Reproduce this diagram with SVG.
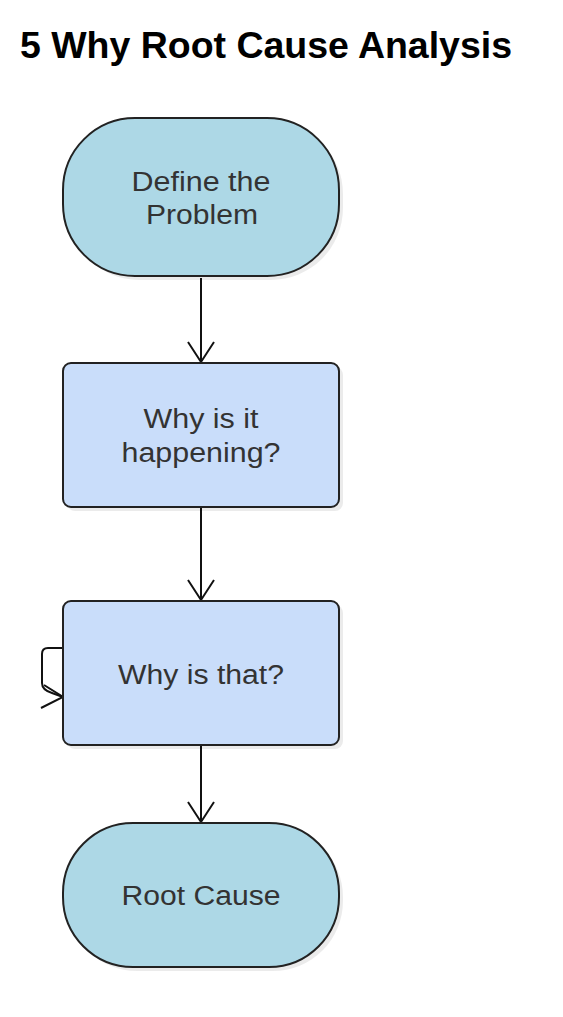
<svg xmlns="http://www.w3.org/2000/svg" width="563" height="1017" viewBox="0 0 563 1017">
<defs>
<style>
.title{font-family:"Liberation Sans",Arial,sans-serif;font-size:36px;font-weight:bold;fill:#000}
.lbl{font-family:"Liberation Sans",Arial,sans-serif;font-size:27px;fill:#333;text-anchor:middle}
.term{fill:#ADD8E6;stroke:#222;stroke-width:2}
.proc{fill:#C9DDFA;stroke:#222;stroke-width:2}
.shadow{fill:#000;opacity:0.08}
.edge{fill:none;stroke:#111;stroke-width:2}
</style>
<marker id="arr" markerWidth="26" markerHeight="30" refX="21" refY="14" orient="auto" markerUnits="userSpaceOnUse">
<path d="M1,1 L21,14 L1,27" fill="none" stroke="#111" stroke-width="2"/>
</marker>
</defs>
<rect width="563" height="1017" fill="#fff"/>
<text class="title" x="20" y="58" textLength="492" lengthAdjust="spacingAndGlyphs">5 Why Root Cause Analysis</text>
<g id="connectors">
<path class="edge" d="M201,278 L201,362" marker-end="url(#arr)"/>
<path class="edge" d="M201,507 L201,600" marker-end="url(#arr)"/>
<path class="edge" d="M201,745 L201,822" marker-end="url(#arr)"/>
<path class="edge" d="M63,648 L48,648 Q42,648 42,654 L42,683 Q42,690 52,693 L63,697"/>
<path class="edge" d="M44,685 L63,697 L41,708"/>
</g>
<g id="node-define">
<rect class="shadow" x="67" y="122" width="276" height="158" rx="72" ry="72"/>
<rect class="term" x="63" y="118" width="276" height="158" rx="72" ry="72"/>
<text class="lbl" x="201" y="191" textLength="139" lengthAdjust="spacingAndGlyphs">Define the</text>
<text class="lbl" x="202" y="224" textLength="112" lengthAdjust="spacingAndGlyphs">Problem</text>
</g>
<g id="node-why1">
<rect class="shadow" x="67" y="367" width="276" height="144" rx="8"/>
<rect class="proc" x="63" y="363" width="276" height="144" rx="8"/>
<text class="lbl" x="201" y="428" textLength="115" lengthAdjust="spacingAndGlyphs">Why is it</text>
<text class="lbl" x="201" y="462" textLength="159" lengthAdjust="spacingAndGlyphs">happening?</text>
</g>
<g id="node-why2">
<rect class="shadow" x="67" y="605" width="276" height="144" rx="8"/>
<rect class="proc" x="63" y="601" width="276" height="144" rx="8"/>
<text class="lbl" x="201" y="684" textLength="166" lengthAdjust="spacingAndGlyphs">Why is that?</text>
</g>
<g id="node-root">
<rect class="shadow" x="67" y="827" width="276" height="144" rx="70" ry="70"/>
<rect class="term" x="63" y="823" width="276" height="144" rx="70" ry="70"/>
<text class="lbl" x="201" y="905" textLength="159" lengthAdjust="spacingAndGlyphs">Root Cause</text>
</g>
</svg>
